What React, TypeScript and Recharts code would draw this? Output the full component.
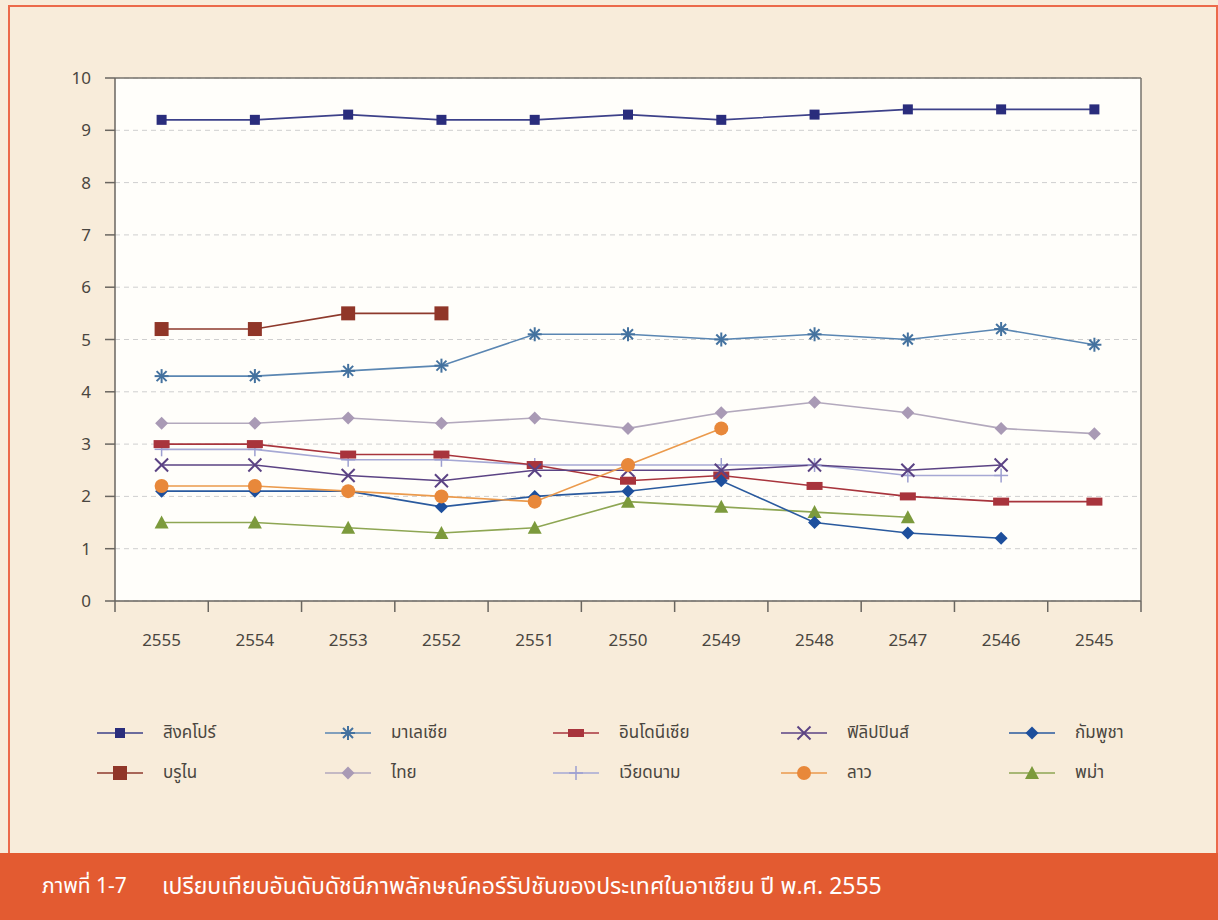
import {
  ComposedChart,
  Line,
  XAxis,
  YAxis,
  CartesianGrid,
} from "recharts";

const years = ["2555", "2554", "2553", "2552", "2551", "2550", "2549", "2548", "2547", "2546", "2545"];

const singapore = [9.2, 9.2, 9.3, 9.2, 9.2, 9.3, 9.2, 9.3, 9.4, 9.4, 9.4];
const brunei = [5.2, 5.2, 5.5, 5.5, null, null, null, null, null, null, null];
const malaysia = [4.3, 4.3, 4.4, 4.5, 5.1, 5.1, 5.0, 5.1, 5.0, 5.2, 4.9];
const thailand = [3.4, 3.4, 3.5, 3.4, 3.5, 3.3, 3.6, 3.8, 3.6, 3.3, 3.2];
const indonesia = [3.0, 3.0, 2.8, 2.8, 2.6, 2.3, 2.4, 2.2, 2.0, 1.9, 1.9];
const vietnam = [2.9, 2.9, 2.7, 2.7, 2.6, 2.6, 2.6, 2.6, 2.4, 2.4, null];
const philippines = [2.6, 2.6, 2.4, 2.3, 2.5, 2.5, 2.5, 2.6, 2.5, 2.6, null];
const laos = [2.2, 2.2, 2.1, 2.0, 1.9, 2.6, 3.3, null, null, null, null];
const cambodia = [2.1, 2.1, 2.1, 1.8, 2.0, 2.1, 2.3, 1.5, 1.3, 1.2, null];
const myanmar = [1.5, 1.5, 1.4, 1.3, 1.4, 1.9, 1.8, 1.7, 1.6, null, null];

const yTicks = [0, 1, 2, 3, 4, 5, 6, 7, 8, 9, 10];
// tick marks sit between the year categories (Excel style)
const boundaryTicks = [0, 1, 2, 3, 4, 5, 6, 7, 8, 9, 10, 11];

// legend order follows the original: row 1 then row 2
const series = [
  { key: "singapore", name: "สิงคโปร์", values: singapore, line: "#3d4189", mark: "#2a2d7c", shape: "square" },
  { key: "malaysia", name: "มาเลเซีย", values: malaysia, line: "#5a86b2", mark: "#44729f", shape: "asterisk" },
  { key: "indonesia", name: "อินโดนีเซีย", values: indonesia, line: "#a8343c", mark: "#a8343c", shape: "dash" },
  { key: "philippines", name: "ฟิลิปปินส์", values: philippines, line: "#5b4384", mark: "#5b4384", shape: "x" },
  { key: "cambodia", name: "กัมพูชา", values: cambodia, line: "#2a5a9e", mark: "#1d4f9c", shape: "diamond" },
  { key: "brunei", name: "บรูไน", values: brunei, line: "#8e3a2c", mark: "#903628", shape: "bigSquare" },
  { key: "thailand", name: "ไทย", values: thailand, line: "#b3a9bd", mark: "#a99ab5", shape: "diamond" },
  { key: "vietnam", name: "เวียดนาม", values: vietnam, line: "#a6a8d4", mark: "#9d9fd0", shape: "plus" },
  { key: "laos", name: "ลาว", values: laos, line: "#eb9a4c", mark: "#e8883a", shape: "circle" },
  { key: "myanmar", name: "พม่า", values: myanmar, line: "#8ea653", mark: "#7c9a3c", shape: "triangle" },
];

// drawing order: later ones on top
const drawOrder = ["thailand", "brunei", "singapore", "malaysia", "vietnam", "indonesia", "philippines", "myanmar", "cambodia", "laos"];

const data = years.map((year, i) => {
  const row: Record<string, string | number | null> = { year, slot: i + 0.5 };
  series.forEach((s) => {
    row[s.key] = s.values[i];
  });
  return row;
});

const font = "'Noto Sans Thai', 'Noto Sans', 'DejaVu Sans', sans-serif";
const axisColor = "#6a6660";

function Marker({ shape, cx, cy, color }: { shape: string; cx: number; cy: number; color: string }) {
  switch (shape) {
    case "square":
      return <rect x={cx - 5} y={cy - 5} width={10} height={10} fill={color} />;
    case "bigSquare":
      return <rect x={cx - 7} y={cy - 7} width={14} height={14} fill={color} />;
    case "dash":
      return <rect x={cx - 8} y={cy - 4} width={16} height={8} fill={color} />;
    case "asterisk":
      return (
        <g stroke={color} strokeWidth={2}>
          <line x1={cx - 7} y1={cy} x2={cx + 7} y2={cy} />
          <line x1={cx} y1={cy - 7} x2={cx} y2={cy + 7} />
          <line x1={cx - 5} y1={cy - 5} x2={cx + 5} y2={cy + 5} />
          <line x1={cx - 5} y1={cy + 5} x2={cx + 5} y2={cy - 5} />
        </g>
      );
    case "x":
      return (
        <g stroke={color} strokeWidth={2}>
          <line x1={cx - 6.5} y1={cy - 6.5} x2={cx + 6.5} y2={cy + 6.5} />
          <line x1={cx - 6.5} y1={cy + 6.5} x2={cx + 6.5} y2={cy - 6.5} />
        </g>
      );
    case "plus":
      return (
        <g stroke={color} strokeWidth={1.5}>
          <line x1={cx - 7} y1={cy} x2={cx + 7} y2={cy} />
          <line x1={cx} y1={cy - 7} x2={cx} y2={cy + 7} />
        </g>
      );
    case "diamond":
      return <polygon points={`${cx},${cy - 6.5} ${cx + 6.5},${cy} ${cx},${cy + 6.5} ${cx - 6.5},${cy}`} fill={color} />;
    case "circle":
      return <circle cx={cx} cy={cy} r={7} fill={color} />;
    case "triangle":
      return <polygon points={`${cx},${cy - 7} ${cx + 7},${cy + 6} ${cx - 7},${cy + 6}`} fill={color} />;
    default:
      return null;
  }
}

const App = () => {
  const ordered = drawOrder.map((k) => series.find((s) => s.key === k)!);
  return (
    <div
      style={{
        position: "absolute",
        left: 0,
        top: 0,
        width: 1218,
        height: 920,
        background: "#f8ecda",
        fontFamily: font,
        overflow: "hidden",
      }}
    >
      <div
        style={{
          position: "absolute",
          left: 8,
          top: 5,
          width: 1206,
          height: 850,
          border: "2px solid #ec6a4a",
        }}
      />

      <div style={{ position: "absolute", left: 0, top: 0 }}>
        <ComposedChart width={1218} height={700} data={data} margin={{ top: 77, right: 76, left: 55, bottom: 0 }}>
          <CartesianGrid
            xAxisId="b"
            yAxisId="left"
            vertical={false}
            stroke="#cfcfcf"
            strokeDasharray="5 4"
            fill="#fffefa"
          />
          <XAxis
            xAxisId="b"
            dataKey="year"
            padding={{ left: 46.6, right: 46.6 }}
            axisLine={false}
            tickLine={false}
            tickSize={0}
            tickMargin={32}
            height={98}
            tick={{ fill: "#4a4640", fontSize: 17 }}
          />
          <XAxis
            xAxisId="a"
            type="number"
            dataKey="slot"
            domain={[0, 11]}
            ticks={boundaryTicks}
            interval={0}
            tickFormatter={() => ""}
            tickSize={11}
            tickLine={{ stroke: axisColor, strokeWidth: 1.5 }}
            axisLine={{ stroke: axisColor, strokeWidth: 1.5 }}
            height={1}
          />
          <XAxis
            xAxisId="top"
            orientation="top"
            dataKey="year"
            tick={false}
            tickLine={false}
            axisLine={{ stroke: "#77736d", strokeWidth: 1.5 }}
            height={1}
          />
          <YAxis
            yAxisId="left"
            domain={[0, 10]}
            ticks={yTicks}
            width={60}
            tickSize={10}
            tickMargin={14}
            tickLine={{ stroke: axisColor, strokeWidth: 1.5 }}
            axisLine={{ stroke: axisColor, strokeWidth: 1.5 }}
            tick={{ fill: "#4a4640", fontSize: 17 }}
          />
          <YAxis
            yAxisId="right"
            orientation="right"
            domain={[0, 10]}
            tick={false}
            tickLine={false}
            width={1}
            axisLine={{ stroke: "#77736d", strokeWidth: 1.5 }}
          />
          {/* invisible series that only anchor the frame axes */}
          <Line xAxisId="a" yAxisId="left" dataKey="singapore" stroke="none" dot={false} activeDot={false} legendType="none" isAnimationActive={false} />
          <Line xAxisId="top" yAxisId="right" dataKey="singapore" stroke="none" dot={false} activeDot={false} legendType="none" isAnimationActive={false} />
          {ordered.map((s) => (
            <Line
              key={s.key}
              xAxisId="b"
              yAxisId="left"
              dataKey={s.key}
              name={s.name}
              stroke={s.line}
              strokeWidth={1.6}
              isAnimationActive={false}
              dot={(p: any) =>
                p.cy == null || p.value == null ? (
                  <g key={`${s.key}-${p.index}`} />
                ) : (
                  <g key={`${s.key}-${p.index}`}>
                    <Marker shape={s.shape} cx={p.cx} cy={p.cy} color={s.mark} />
                  </g>
                )
              }
              activeDot={false}
            />
          ))}
        </ComposedChart>
      </div>

      <div
        style={{
          position: "absolute",
          left: 97,
          top: 718,
          display: "grid",
          gridTemplateColumns: "repeat(5, 228px)",
          rowGap: 10,
        }}
      >
        {series.map((s) => (
          <div key={s.key} style={{ display: "flex", alignItems: "center", height: 30 }}>
            <svg width={46} height={20} style={{ flex: "none" }}>
              <line x1={0} y1={10} x2={46} y2={10} stroke={s.line} strokeWidth={1.6} />
              <Marker shape={s.shape} cx={23} cy={10} color={s.mark} />
            </svg>
            <span style={{ marginLeft: 20, fontSize: 17, color: "#4a4640" }}>{s.name}</span>
          </div>
        ))}
      </div>

      <div
        style={{
          position: "absolute",
          left: 0,
          top: 853,
          width: 1218,
          height: 67,
          background: "#e35b31",
          color: "#ffffff",
          fontSize: 23,
          display: "flex",
          alignItems: "center",
          whiteSpace: "pre",
        }}
      >
        <span style={{ position: "absolute", left: 42, fontSize: 21 }}>ภาพที่ 1-7</span>
        <span style={{ position: "absolute", left: 162 }}>เปรียบเทียบอันดับดัชนีภาพลักษณ์คอร์รัปชันของประเทศในอาเซียน ปี พ.ศ. 2555</span>
      </div>
    </div>
  );
};

export default App;
